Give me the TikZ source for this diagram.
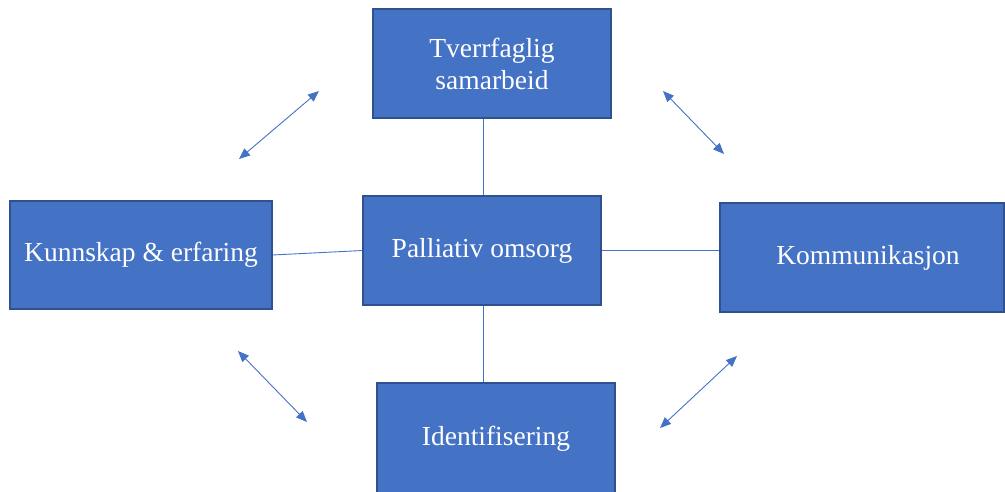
\documentclass[tikz,border=0pt]{standalone}
\usepackage{fontspec}
\setmainfont{Liberation Serif}
\usetikzlibrary{arrows.meta}
\definecolor{boxfill}{HTML}{4472C4}
\definecolor{boxline}{HTML}{2F528F}
\definecolor{conn}{HTML}{4472C4}
\tikzset{
  box/.style={draw=boxline, line width=1.2pt, fill=boxfill, text=white, align=center,
    inner sep=0pt, font=\fontsize{27.5}{32}\selectfont},
  link/.style={draw=conn, line width=0.9pt},
  twoway/.style={draw=conn, line width=0.9pt, {Triangle[length=11pt,width=9pt]}-{Triangle[length=11pt,width=9pt]}}
}
\begin{document}
\begin{tikzpicture}[x=1pt,y=1pt]
\useasboundingbox (0,0) rectangle (1005,-491);
\node[box, minimum width=238pt, minimum height=109pt] (top) at (492,-63.5) {Tverrfaglig\\samarbeid};
\node[box, minimum width=238pt, minimum height=109pt] (c) at (482,-250.5) {Palliativ omsorg};
\node[box, minimum width=262pt, minimum height=108pt] (l) at (141,-255) {Kunnskap \& erfaring};
\node[box, minimum width=284pt, minimum height=109pt, text width=284pt, align=center] (r) at (862,-257.5) {\hspace*{12pt}Kommunikasjon};
\node[box, minimum width=238pt, minimum height=112pt] (bot) at (496,-439) {Identifisering};
\draw[link] ([xshift=1pt]c.north) -- ([xshift=1pt]c.north |- top.south);
\draw[link] ([xshift=1pt]c.south) -- ([xshift=1pt]c.south |- bot.north);
\draw[link] (l.east) -- (c.west);
\draw[link] (c.east) -- (c.east -| r.west);
\coordinate (a1) at (239,-159);
\coordinate (a2) at (319,-91);
\coordinate (b1) at (663,-91);
\coordinate (b2) at (724,-154);
\coordinate (d1) at (238,-351);
\coordinate (d2) at (307,-422);
\coordinate (e1) at (660,-428);
\coordinate (e2) at (737,-356);
\draw[twoway] (a1) -- (a2);
\draw[twoway] (b1) -- (b2);
\draw[twoway] (d1) -- (d2);
\draw[twoway] (e1) -- (e2);
\end{tikzpicture}
\end{document}
